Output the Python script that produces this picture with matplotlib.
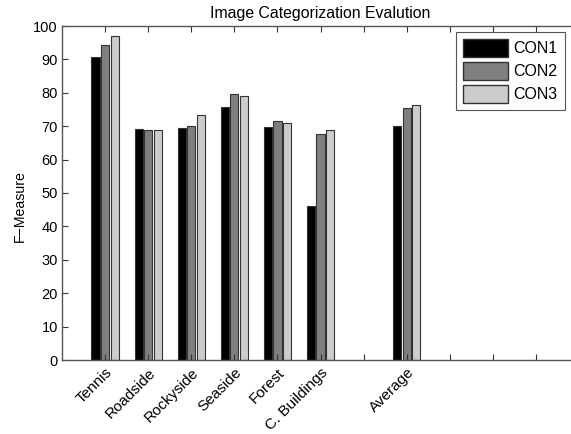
#!/usr/bin/env python3
"""Image categorization F-measure bar chart (MATLAB-like style)."""
import numpy as np
import matplotlib
matplotlib.use("Agg")
import matplotlib.pyplot as plt
from matplotlib.patches import Patch

categories = ["Tennis", "Roadside", "Rockyside", "Seaside", "Forest",
              "C. Buildings", "", "Average", "", "", ""]
series_names = ["CON1", "CON2", "CON3"]
con1 = [90.8, 69.2, 69.4, 75.6, 69.8, 46.1, np.nan, 70.2, np.nan, np.nan, np.nan]
con2 = [94.2, 68.9, 70.1, 79.6, 71.5, 67.6, np.nan, 75.3, np.nan, np.nan, np.nan]
con3 = [96.9, 68.9, 73.4, 79.0, 71.1, 69.0, np.nan, 76.4, np.nan, np.nan, np.nan]
yticks = list(range(0, 101, 10))

plt.rcParams["font.family"] = ["Liberation Sans", "DejaVu Sans"]

fig = plt.figure(figsize=(5.71, 4.34), dpi=100)
# axes run past the right edge, as in the cropped original
ax = fig.add_axes([62 / 571, 1 - 360 / 434, 517 / 571, 334 / 434])

x = np.arange(1, len(categories) + 1)
colors = ["#000000", "#7f7f7f", "#cccccc"]
offset = 0.222
width = 0.19
for i, (vals, c) in enumerate(zip([con1, con2, con3], colors)):
    ax.bar(x + (i - 1) * offset, vals, width, color=c,
           edgecolor="#333333", linewidth=0.8, label=series_names[i])

ax.set_xlim(0, 12)
ax.set_ylim(0, 100)
ax.set_yticks(yticks)
ax.set_xticks(x)
ax.set_xticklabels(categories, rotation=45, ha="right", rotation_mode="anchor",
                   fontsize=11)
ax.tick_params(axis="y", labelsize=10.5, pad=3)
ax.tick_params(axis="x", pad=4)
ax.tick_params(direction="in", top=True, length=4, color="#333333", width=0.8)
for s in ax.spines.values():
    s.set_color("#555555")
    s.set_linewidth(1.0)

ax.set_ylabel("F\u2212Measure", fontsize=10.2)
ax.yaxis.set_label_coords(-0.068, 0.46)
ax.set_title("Image Categorization Evalution", fontsize=11.4, pad=6)

handles = [Patch(facecolor=c, edgecolor="#333333", label=n)
           for c, n in zip(colors, series_names)]
leg = ax.legend(handles=handles, loc="upper left",
                bbox_to_anchor=(456 / 571, 1 - 32 / 434),
                bbox_transform=fig.transFigure, fontsize=11.5,
                handlelength=2.8, handleheight=1.3, handletextpad=0.35,
                borderpad=0.45, labelspacing=0.35, fancybox=False,
                framealpha=1, edgecolor="#555555", borderaxespad=0)
leg.get_frame().set_linewidth(0.8)

fig.savefig("out.png", dpi=100)
